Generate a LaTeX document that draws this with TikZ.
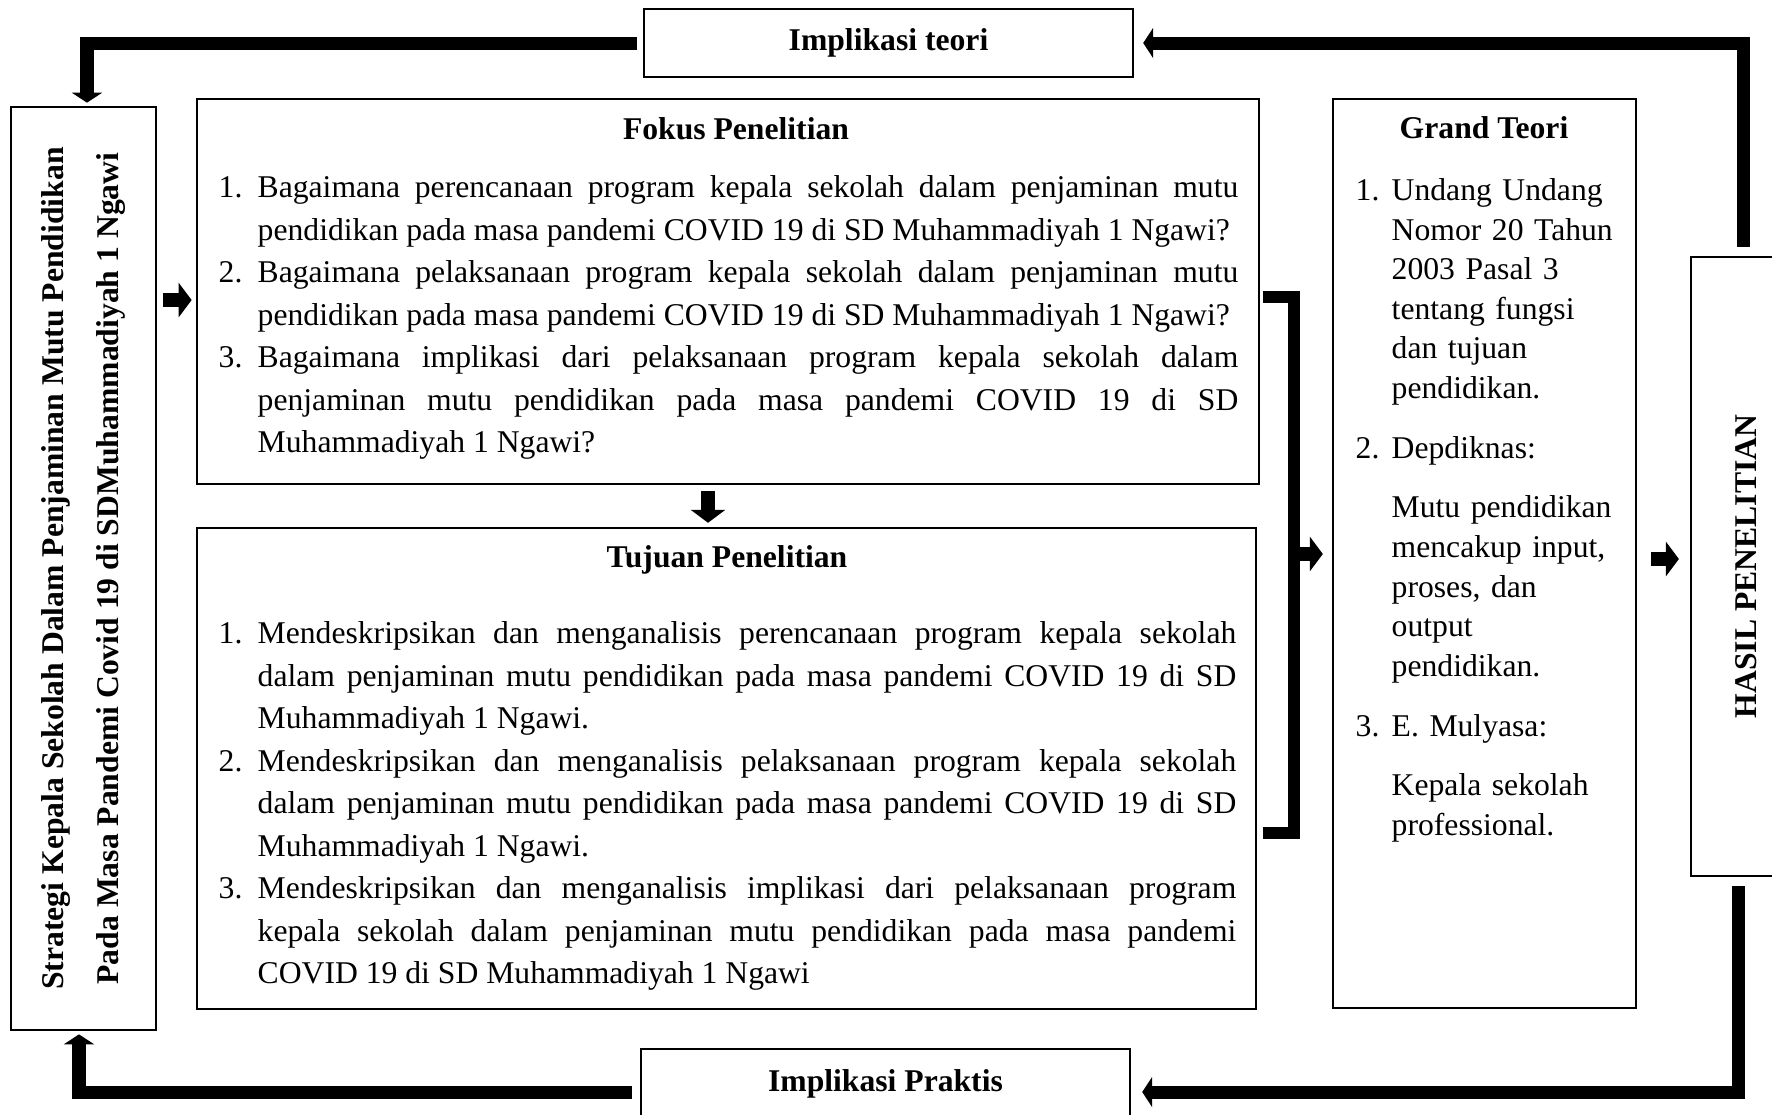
\documentclass[tikz,border=0pt]{standalone}
\usepackage{fontspec}
\setmainfont{Liberation Serif}
\usetikzlibrary{arrows.meta}
\tikzset{
  box/.style={draw, line width=0.6pt, inner sep=0pt},
  heading/.style={font=\fontsize{9}{12.1}\selectfont\bfseries, inner sep=0pt, anchor=base},
  itemlist/.style={font=\fontsize{9}{12.1}\selectfont, inner sep=0pt, anchor=north west, align=justify},
  loopline/.style={line width=0.13cm, -{Triangle[width=0.30cm,length=0.10cm]}},
  blockarrow/.style={line width=0.14cm, -{Triangle[width=0.34cm,length=0.13cm]}},
  bracket/.style={line width=0.12cm}
}
\newcommand{\penitem}[3][0.39cm]{\hangindent=#1\hangafter=1\noindent\makebox[#1][l]{\strut#2}#3\par}
\newcommand{\penpara}[2][0.36cm]{\hangindent=#1\hangafter=0\noindent\strut#2\par}

\begin{document}
\begin{tikzpicture}[x=0.01cm,y=-0.01cm]
\useasboundingbox (0,0) rectangle (1772,1114);

% kotak
\node[box, rotate=90, minimum width=9.23cm, minimum height=1.45cm, align=center,
      font=\fontsize{9}{15.9}\selectfont\bfseries] (strategi) at (83.5,568.5)
  {Strategi Kepala Sekolah Dalam Penjaminan Mutu Pendidikan\\Pada Masa Pandemi Covid 19 di SDMuhammadiyah 1 Ngawi};
\node[box, minimum width=4.89cm, minimum height=0.68cm, font=\fontsize{9}{12.1}\selectfont\bfseries] (teori) at (888.5,43) {Implikasi teori};
\node[box, minimum width=4.89cm, minimum height=0.70cm, font=\fontsize{9}{12.1}\selectfont\bfseries] (praktis) at (885.5,1084) {Implikasi Praktis};
\node[box, minimum width=10.62cm, minimum height=3.85cm] (fokus) at (728,291.5) {};
\node[box, minimum width=10.59cm, minimum height=4.81cm] (tujuan) at (726.5,768.5) {};
\node[box, minimum width=3.03cm, minimum height=9.09cm] (grand) at (1484.5,553.5) {};
\node[box, rotate=90, minimum width=6.19cm, minimum height=1.10cm, font=\fontsize{9}{12.1}\selectfont\bfseries] (hasil) at (1746,566.5) {HASIL PENELITIAN};

% isi
\node[heading] (fokusjudul) at (736,139) {Fokus Penelitian};
\node[itemlist, text width=10.19cm] (fokusisi) at (218,167) {%
\penitem{1.}{Bagaimana perencanaan program kepala sekolah dalam penjaminan mutu\linebreak pendidikan pada masa pandemi COVID 19 di SD Muhammadiyah 1 Ngawi?}
\penitem{2.}{Bagaimana pelaksanaan program kepala sekolah dalam penjaminan mutu\linebreak pendidikan pada masa pandemi COVID 19 di SD Muhammadiyah 1 Ngawi?}
\penitem{3.}{Bagaimana implikasi dari pelaksanaan program kepala sekolah dalam\linebreak penjaminan mutu pendidikan pada masa pandemi COVID 19 di SD\linebreak Muhammadiyah 1 Ngawi?}};

\node[heading] (tujuanjudul) at (727,567) {Tujuan Penelitian};
\node[itemlist, text width=10.17cm] (tujuanisi) at (218,613) {%
\penitem{1.}{Mendeskripsikan dan menganalisis perencanaan program kepala sekolah\linebreak dalam penjaminan mutu pendidikan pada masa pandemi COVID 19 di SD\linebreak Muhammadiyah 1 Ngawi.}
\penitem{2.}{Mendeskripsikan dan menganalisis pelaksanaan program kepala sekolah\linebreak dalam penjaminan mutu pendidikan pada masa pandemi COVID 19 di SD\linebreak Muhammadiyah 1 Ngawi.}
\penitem{3.}{Mendeskripsikan dan menganalisis implikasi dari pelaksanaan program\linebreak kepala sekolah dalam penjaminan mutu pendidikan pada masa pandemi\linebreak COVID 19 di SD Muhammadiyah 1 Ngawi}};

\node[heading] (grandjudul) at (1484,138) {Grand Teori};
\node[itemlist, text width=2.70cm, align=left, font=\fontsize{9}{11.27}\selectfont] (grandisi) at (1355,172) {%
\penitem[0.36cm]{1.}{Undang Undang\newline Nomor 20 Tahun\newline 2003 Pasal 3\newline tentang fungsi\newline dan tujuan\newline pendidikan.}
\vspace{0.2cm}
\penitem[0.36cm]{2.}{Depdiknas:}
\vspace{0.2cm}
\penpara{Mutu pendidikan\newline mencakup input,\newline proses, dan\newline output\newline pendidikan.}
\vspace{0.2cm}
\penitem[0.36cm]{3.}{E. Mulyasa:}
\vspace{0.2cm}
\penpara{Kepala sekolah\newline professional.}};

% panah
\draw[loopline] ([xshift=-0.06cm]teori.west) -| ([xshift=0.035cm,yshift=0.03cm]strategi.east);
\draw[loopline] ([xshift=-0.03cm,yshift=0.09cm]hasil.east) |- ([xshift=0.09cm]teori.east);
\draw[loopline] ([xshift=-0.08cm,yshift=-0.09cm]hasil.west) |- ([xshift=0.11cm,yshift=-0.08cm]praktis.east);
\draw[loopline] ([xshift=-0.08cm,yshift=-0.08cm]praktis.west) -| ([xshift=-0.045cm,yshift=-0.03cm]strategi.west);

\draw[blockarrow] ([xshift=0.06cm]strategi.south |- 0,300) -- ([xshift=-0.04cm]fokus.west |- 0,300);
\draw[blockarrow] ([yshift=-0.06cm]fokus.south -| 708,0) -- ([yshift=0.04cm]tujuan.north -| 708,0);
\coordinate (siku) at (1294,554);
\draw[bracket] ([xshift=0.03cm]fokus.east |- 0,297) -- (siku |- 0,297) -- (siku |- 0,833) -- ([xshift=0.06cm]tujuan.east |- 0,833);
\draw[blockarrow] (siku) -- ([xshift=-0.09cm]grand.west |- siku);
\draw[blockarrow] ([xshift=0.14cm]grand.east |- 0,559) -- ([xshift=-0.11cm]hasil.north |- 0,559);
\end{tikzpicture}
\end{document}
